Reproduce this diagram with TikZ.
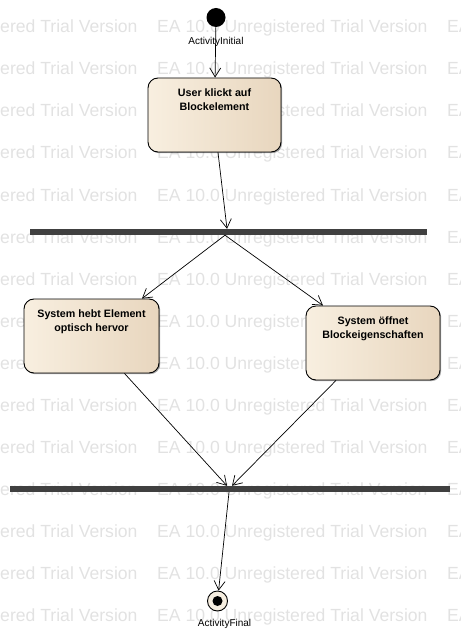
\documentclass[tikz,border=0pt]{standalone}
\usepackage{fontspec}
\setmainfont{Liberation Sans}
\usetikzlibrary{arrows.meta,shadows}
\definecolor{boxleft}{RGB}{248,239,224}
\definecolor{boxright}{RGB}{232,214,190}
\definecolor{barcol}{RGB}{64,64,64}
\definecolor{wmcol}{RGB}{226,226,226}
\definecolor{finalfill}{RGB}{246,238,224}
\begin{document}
\begin{tikzpicture}[x=1pt,y=-1pt,
  wmark/.style={anchor=base west,inner sep=0pt,text=wmcol,font=\fontsize{17.6}{20}\selectfont},
  actbox/.style={draw,line width=0.9pt,rounded corners=10pt,left color=boxleft,right color=boxright,
    drop shadow={shadow xshift=1.2pt,shadow yshift=-1.2pt,fill=black,opacity=0.35},
    minimum height=74pt,inner sep=0pt},
  acttext/.style={anchor=north,inner sep=0pt,yshift=-10.5pt,align=center,
    font=\bfseries\fontsize{10.7}{14}\selectfont},
  syncbar/.style={fill=barcol,inner sep=0pt,minimum height=6pt},
  small/.style={inner sep=1pt,label distance=5pt,font=\fontsize{10}{12}\selectfont},
  flow/.style={line width=0.7pt,-{Straight Barb[length=9pt,width=11pt]}}]
  \useasboundingbox (0,0) rectangle (460,644);
  \begin{scope}
    \clip (0,0) rectangle (460,644);
    \foreach \r in {0,...,14}
      \foreach \c in {-133,157,447}
        \node[wmark] (wm-\r-\c) at (\c,33+42*\r) {EA 10.0 Unregistered Trial Version};
  \end{scope}

  \node[circle,fill=black,inner sep=0pt,minimum size=19pt,
    label={[small,yshift=-4pt]below:ActivityInitial}] (init) at (216,17.5) {};
  \node[actbox,minimum width=133pt,
    label={[acttext]north:{User klickt auf\\Blockelement}}] (act1) at (214.5,115) {};
  \node[syncbar,minimum width=397pt] (fork) at (228.5,232) {};
  \node[actbox,minimum width=135pt,
    label={[acttext]north:{System hebt Element\\optisch hervor}}] (act2) at (91.5,336) {};
  \node[actbox,minimum width=134pt,
    label={[acttext]north:{System öffnet\\Blockeigenschaften}}] (act3) at (373,343) {};
  \node[syncbar,minimum width=440pt] (join) at (230,489) {};
  \node[circle,draw,line width=0.9pt,fill=finalfill,inner sep=0pt,minimum size=20pt,
    label={[small,xshift=7pt,yshift=-1.5pt]below:ActivityFinal}] (final) at (217.5,601) {};
  \node[circle,fill=black,inner sep=0pt,minimum size=10pt] (finaldot) at (final.center) {};

  \draw[flow] (init) -- (act1);
  \draw[flow] ([xshift=3.5pt]act1.south) -- ([xshift=-1.5pt]fork.north);
  \draw[flow] ([xshift=-3.5pt]fork.south) -- ([xshift=50.5pt]act2.north);
  \draw[flow] ([xshift=-3.5pt]fork.south) -- ([xshift=-50pt]act3.north);
  \draw[flow] ([xshift=33pt]act2.south) -- ([xshift=-3pt]join.north);
  \draw[flow] ([xshift=-37pt]act3.south) -- ([xshift=2pt]join.north);
  \draw[flow] ([xshift=-1pt]join.south) -- (final);
\end{tikzpicture}
\end{document}
